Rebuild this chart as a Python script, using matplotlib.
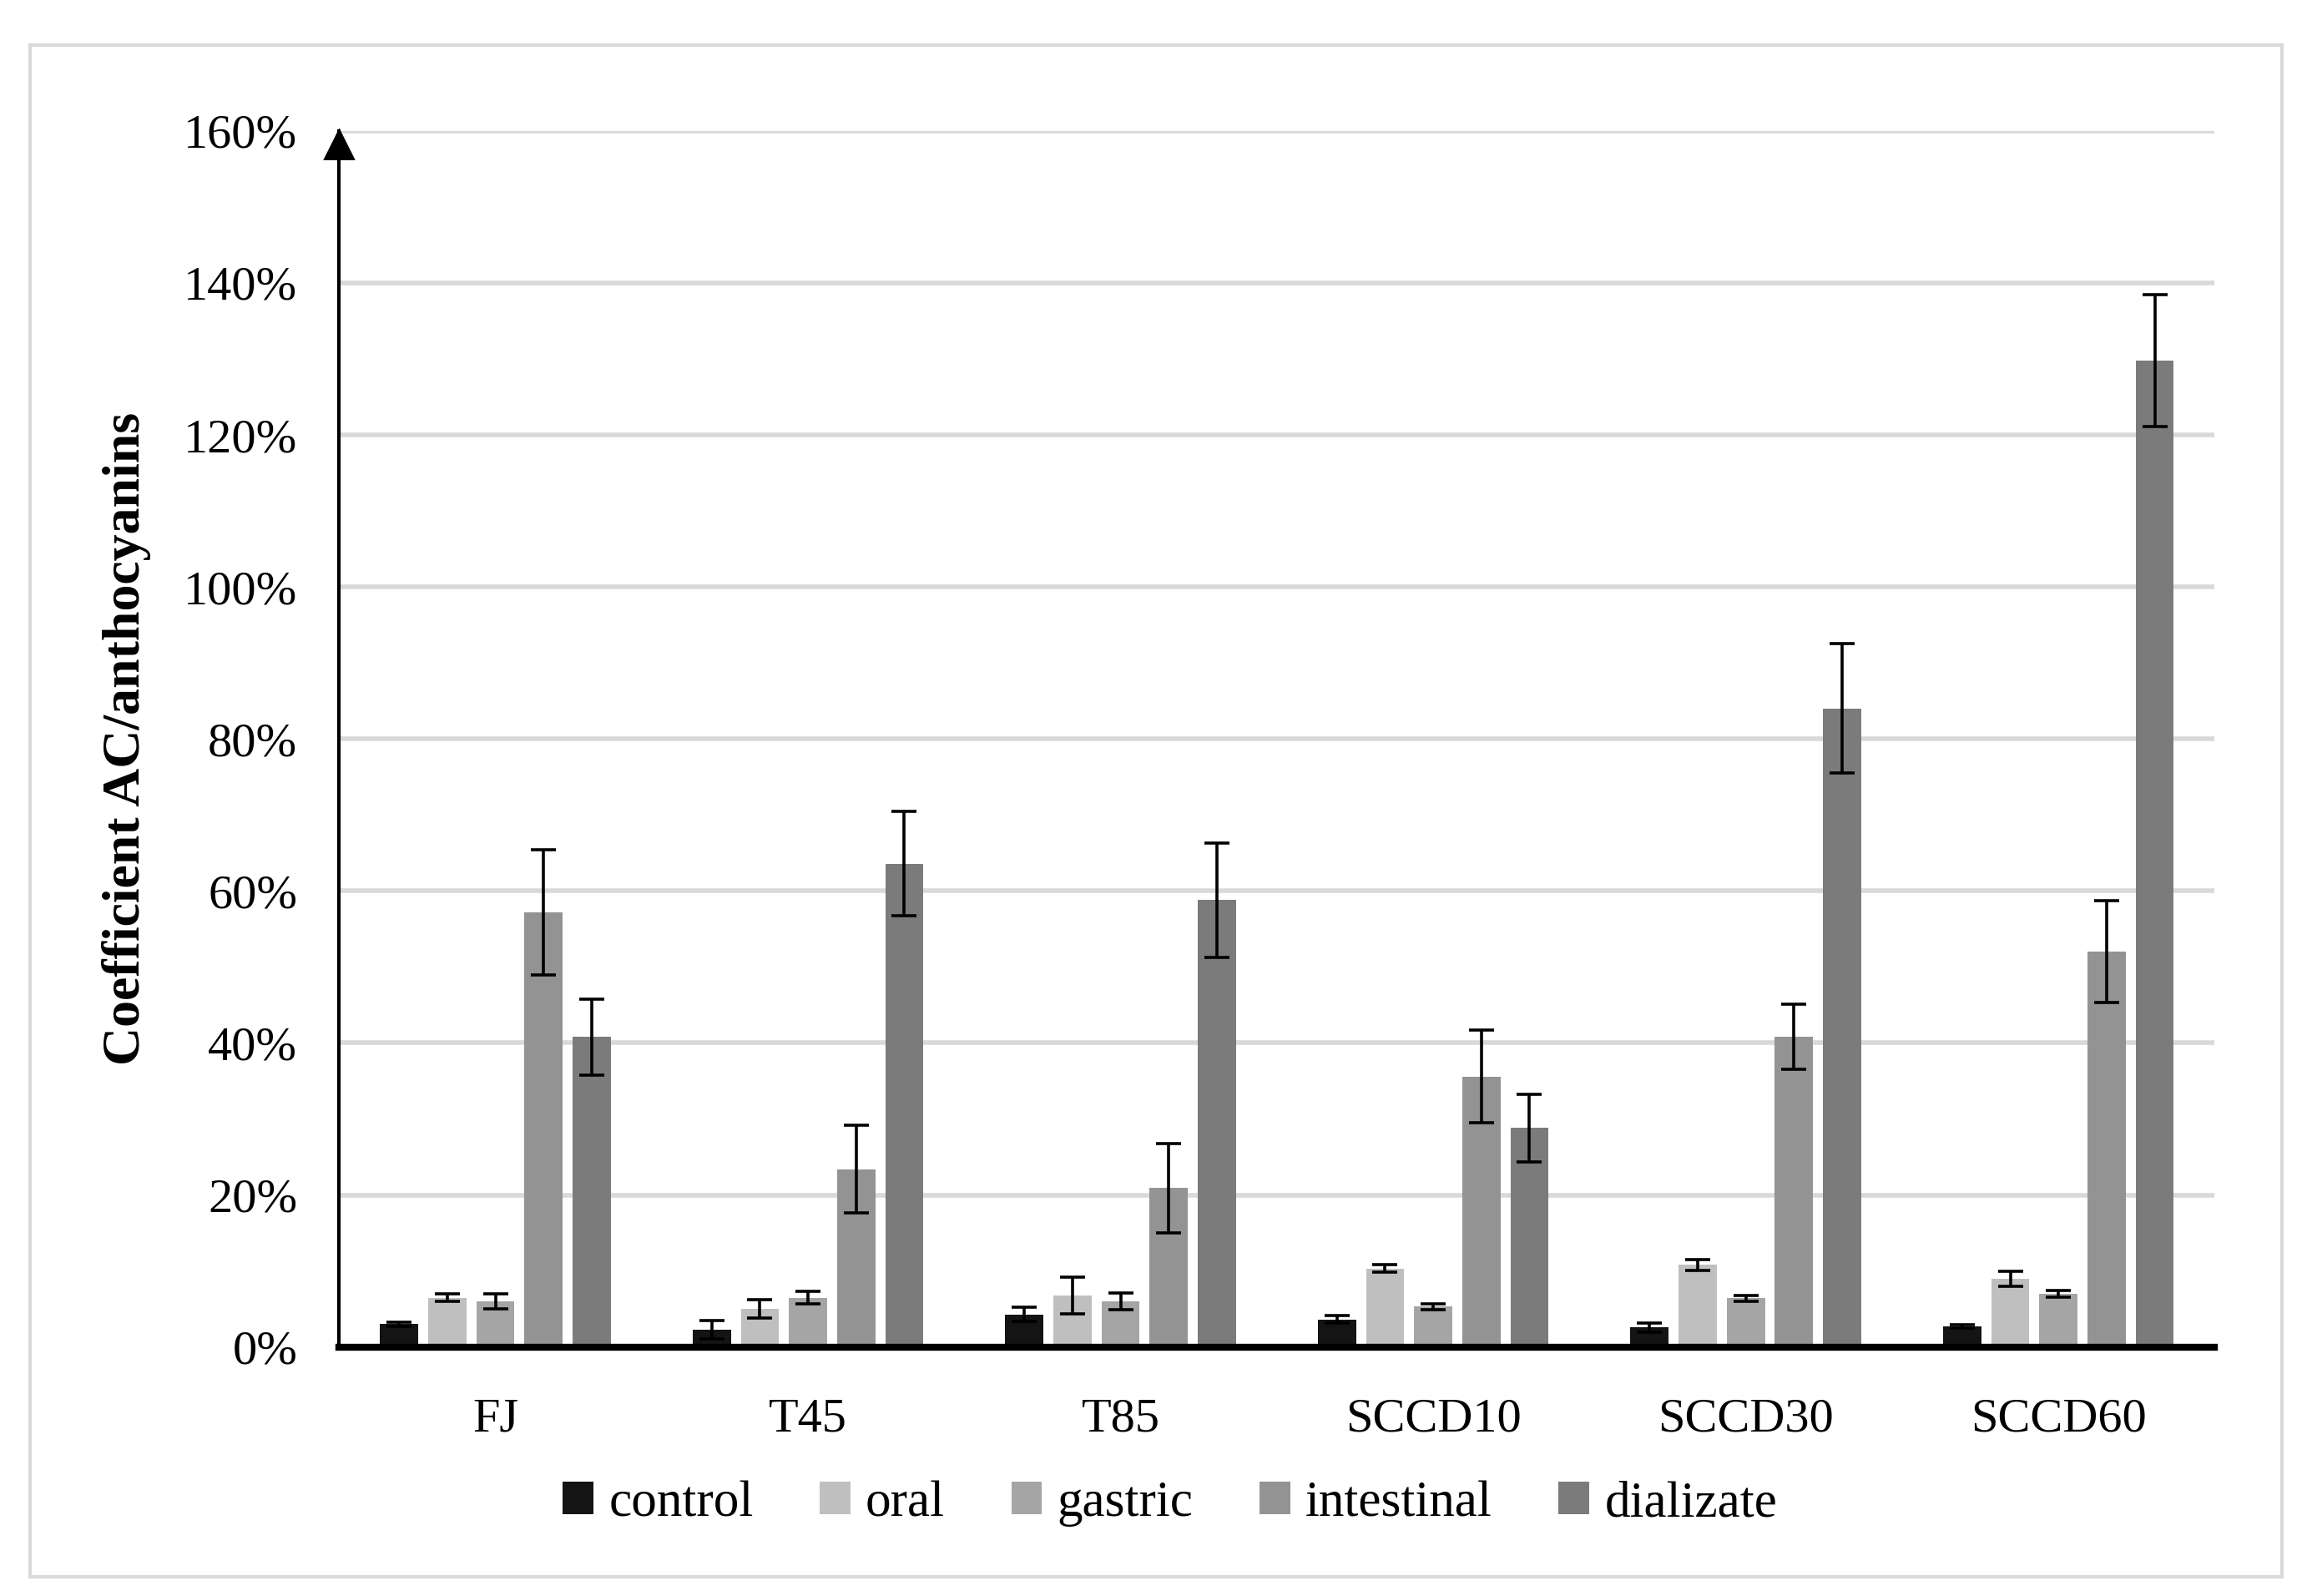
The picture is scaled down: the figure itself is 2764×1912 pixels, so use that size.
#!/usr/bin/env python3
"""
Coefficient AC/anthocyanins across digestion stages
"""
import numpy as np
import matplotlib.pyplot as plt
from matplotlib.patches import Rectangle
from matplotlib.transforms import offset_copy

# data (%)
samples = ['FJ', 'T45', 'T85', 'SCCD10', 'SCCD30', 'SCCD60']
stages = ['control', 'oral', 'gastric', 'intestinal', 'dializate']
control = [3.0, 2.3, 4.3, 3.6, 2.6, 2.7]
oral = [6.5, 5.0, 6.8, 10.3, 10.8, 9.0]
gastric = [6.0, 6.5, 6.0, 5.3, 6.4, 7.0]
intestinal = [57.2, 23.4, 20.9, 35.6, 40.8, 52.0]
dializate = [40.8, 63.6, 58.8, 28.8, 84.0, 129.8]
control_err = [0.3, 1.2, 0.9, 0.5, 0.6, 0.2]
oral_err = [0.5, 1.2, 2.4, 0.5, 0.7, 1.0]
gastric_err = [1.0, 0.8, 1.1, 0.4, 0.4, 0.4]
intestinal_err = [8.2, 5.8, 5.9, 6.1, 4.3, 6.7]
dializate_err = [5.0, 6.9, 7.5, 4.5, 8.5, 8.7]
colors = ['#141414', '#bfbfbf', '#a5a5a5', '#939393', '#7b7b7b']

values = [control, oral, gastric, intestinal, dializate]
errors = [control_err, oral_err, gastric_err, intestinal_err, dializate_err]

# setup figure
plt.rc('font', family=['Liberation Serif', 'DejaVu Serif'], size=21)
fig = plt.figure(figsize=(13.82, 9.56), dpi=200)
ax = fig.add_axes([0.147, 0.156, 0.813, 0.762])

# outer frame
fig.patches.append(Rectangle((0.013, 0.012), 0.976, 0.96, transform=fig.transFigure,
                             fill=False, edgecolor='#d9d9d9', linewidth=1.5))

# plot bars
x = np.arange(len(samples))
step = 0.154
width = 0.122
for i, (name, v, e, c) in enumerate(zip(stages, values, errors, colors)):
    ax.bar(x + (i - 2) * step, v, width, color=c, label=name, zorder=2,
           yerr=e, capsize=5.5, error_kw=dict(elinewidth=1.3, capthick=1.3, ecolor='k', zorder=3))

# axes
ax.set_xlim(-0.5, 5.5)
ax.set_ylim(0, 160)
ax.set_yticks(np.arange(0, 161, 20))
ax.set_yticklabels(['%d%%' % t for t in range(0, 161, 20)])
ax.set_xticks(x)
ax.set_xticklabels(samples)
ax.tick_params(axis='both', length=0)
ax.tick_params(axis='y', pad=18)
ax.tick_params(axis='x', pad=22)
ax.grid(axis='y', color='#d9d9d9', linewidth=2, zorder=0)
ax.set_axisbelow(True)
for s in ('top', 'right'):
    ax.spines[s].set_visible(False)
ax.spines['left'].set_linewidth(1.5)
ax.spines['bottom'].set_linewidth(3)
ax.spines['bottom'].set_zorder(4)
tr = offset_copy(ax.transAxes, fig=fig, y=-6, units='points')
ax.plot([0], [1], marker='^', markersize=12, color='k', transform=tr,
        clip_on=False, zorder=5)
ax.set_ylabel('Coefficient AC/anthocyanins', fontweight='bold', fontsize=23, labelpad=14)

# legend
ax.legend(loc='upper center', bbox_to_anchor=(0.443, -0.093), ncol=5, frameon=False,
          fontsize=22, handlelength=0.6, handleheight=0.6, handletextpad=0.3,
          columnspacing=1.3, borderaxespad=0)

# finish up
fig.savefig('out.png', dpi=200)
